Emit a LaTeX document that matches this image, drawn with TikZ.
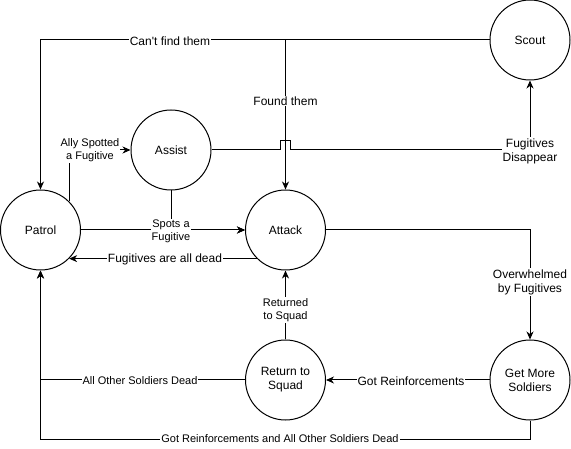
\documentclass[tikz,border=0pt]{standalone}
\usepackage{fontspec}
\setmainfont{Liberation Sans}
\usetikzlibrary{arrows.meta}
\begin{document}
\begin{tikzpicture}[x=1pt,y=-1pt,line width=1pt,
  state/.style={circle,draw,minimum size=80pt,inner sep=0pt,align=center,font=\fontsize{12}{14}\selectfont},
  arr/.style={-{Stealth[length=8pt,width=7pt,inset=2.5pt]}},
  lbl/.style={fill=white,inner sep=1pt,align=center,font=\fontsize{12}{14}\selectfont},
  slbl/.style={fill=white,inner sep=1pt,align=center,font=\fontsize{11}{13}\selectfont}]
\useasboundingbox (0,0) rectangle (571,449);
% states
\node[state] (patrol) at (40.5,230) {Patrol};
\node[state] (assist) at (171,150) {Assist};
\node[state] (attack) at (285.5,230) {Attack};
\node[state] (scout) at (530,40) {Scout};
\node[state] (gms) at (530,380) {Get More\\Soldiers};
\node[state] (rts) at (285.5,380) {Return to\\Squad};
% corner coordinates
\coordinate (tl) at (40.5,40);
\coordinate (tm) at (285.5,40);
\coordinate (h1) at (280.5,150);
\coordinate (h2) at (280.5,141);
\coordinate (h3) at (290.5,141);
\coordinate (h4) at (290.5,150);
\coordinate (br) at (530,439);
% connectors
\draw[arr] (scout.west) -- (tl) -- (patrol.north);
\draw[arr] (scout.west) -- (tm) -- (attack.north);
\draw[arr] (patrol.north east) |- (assist.west);
\draw[arr] (assist.east) -- (h1) -- (h2) -- (h3) -- (h4) -| (scout.south);
\draw[arr] (patrol.east) -- (attack.west);
\draw[arr] (assist.south) |- (attack.west);
\draw[arr] (attack.south west) -- (patrol.south east);
\draw[arr] (attack.east) -| (gms.north);
\draw[arr] (rts.north) -- (attack.south);
\draw[arr] (rts.west) -| (patrol.south);
\draw[arr] (gms.west) -- (rts.east);
\draw[arr] (gms.south) -- (br) -| (patrol.south);
% labels
\node[lbl] (lcant) at (170,41) {Can\textquotesingle t find them};
\node[lbl] (lfound) at (285.5,101) {Found them};
\node[slbl] (lally) at (90,150) {Ally Spotted\\a Fugitive};
\node[lbl] (ldis) at (530,151) {Fugitives\\Disappear};
\node[slbl] (lspots) at (171,231) {Spots a\\Fugitive};
\node[lbl] (ldead) at (165,259) {Fugitives are all dead};
\node[lbl] (lover) at (530,282) {Overwhelmed\\by Fugitives};
\node[slbl] (lret) at (285.5,310) {Returned\\to Squad};
\node[slbl] (lall) at (140,381) {All Other Soldiers Dead};
\node[lbl] (lgot) at (411,381) {Got Reinforcements};
\node[slbl] (lgotall) at (280,439) {Got Reinforcements and All Other Soldiers Dead};
\end{tikzpicture}
\end{document}
